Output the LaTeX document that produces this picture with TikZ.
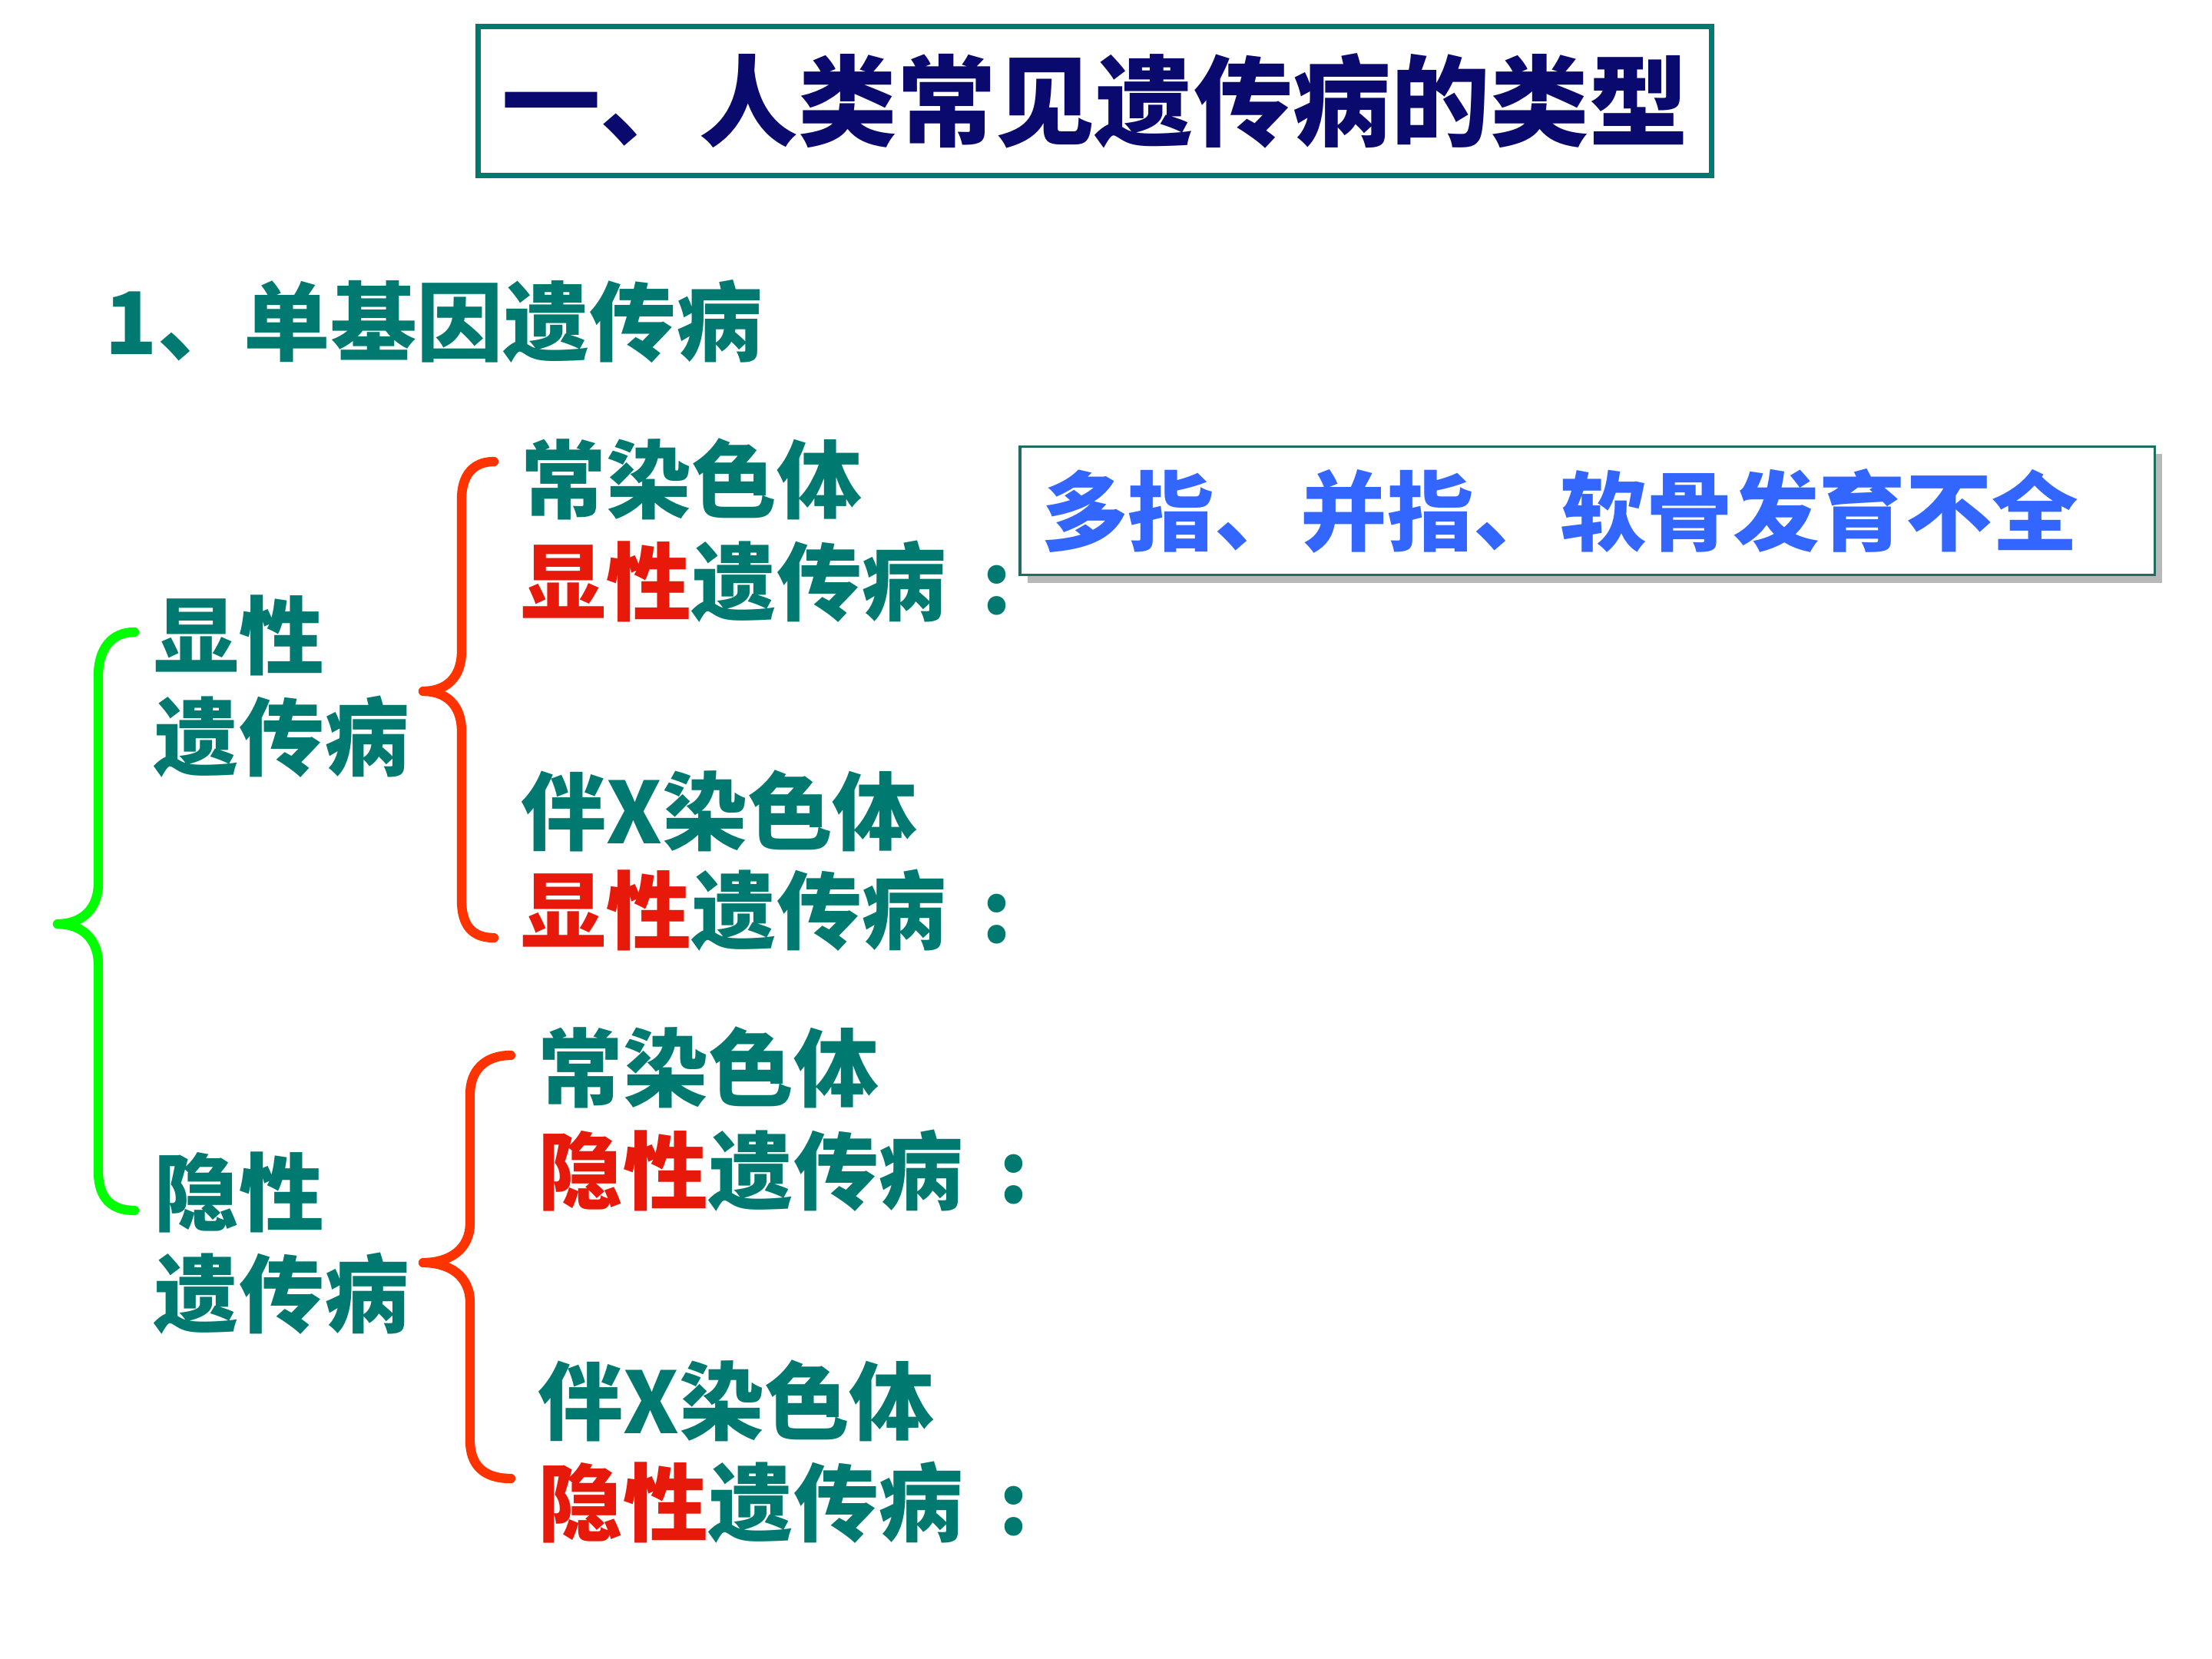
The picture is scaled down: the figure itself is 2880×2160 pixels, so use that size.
\documentclass[tikz,border=0pt]{standalone}
\usepackage{fontspec}
\setmainfont{Noto Sans CJK SC}
\usetikzlibrary{shadows}
\definecolor{navy}{RGB}{10,10,110}
\definecolor{teal1}{RGB}{0,122,112}
\definecolor{redtxt}{RGB}{230,25,10}
\definecolor{orangebr}{RGB}{255,51,0}
\definecolor{greenbr}{RGB}{0,255,0}
\definecolor{bluetxt}{RGB}{51,102,255}
\definecolor{boxline}{RGB}{30,110,95}
\newcommand{\clon}{\hspace{0.42em}:}
\tikzset{
  lbl/.style={anchor=west, inner sep=0pt, text=teal1, font=\fontsize{31.5pt}{31.5pt}\selectfont\bfseries},
  brace/.style={line width=3.5pt, line cap=round, line join=round},
}
\begin{document}
\begin{tikzpicture}[x=0.01cm, y=-0.01cm]
\useasboundingbox (0,0) rectangle (2880,2160);
% title
\node[draw=teal1, line width=2pt, minimum width=16.05cm, minimum height=1.93cm, inner sep=0pt,
      text=navy, font=\fontsize{36.6pt}{36.6pt}\selectfont\bfseries] (title) at (1425.5,131.5) {一、人类常见遗传病的类型};
% subtitle
\node[lbl, font=\fontsize{32pt}{32pt}\selectfont\bfseries] (sub) at (136,419) {1、单基因遗传病};
% left labels
\node[lbl] (dom1) at (200,827) {显性};
\node[lbl] (dom2) at (200,959) {遗传病};
\node[lbl] (rec1) at (200,1552) {隐性};
\node[lbl] (rec2) at (200,1684) {遗传病};
% upper group
\node[lbl] (a1) at (678,624) {常染色体};
\node[lbl] (a2) at (678,757) {\textcolor{redtxt}{显性}遗传病\clon};
\node[lbl] (b1) at (678,1056) {伴X染色体};
\node[lbl] (b2) at (678,1185) {\textcolor{redtxt}{显性}遗传病\clon};
% lower group
\node[lbl] (c1) at (700,1390) {常染色体};
\node[lbl] (c2) at (700,1524) {\textcolor{redtxt}{隐性}遗传病\clon};
\node[lbl] (d1) at (700,1824) {伴X染色体};
\node[lbl] (d2) at (700,1956) {\textcolor{redtxt}{隐性}遗传病\clon};
% example box
\node[draw=boxline, line width=1.1pt, fill=white, minimum width=14.77cm, minimum height=1.67cm,
      text width=14.2cm, align=left, inner xsep=0.26cm, inner ysep=0pt,
      drop shadow={shadow xshift=0.1cm, shadow yshift=-0.1cm, fill=black!28, opacity=1},
      text=bluetxt, font=\fontsize{32pt}{32pt}\selectfont\bfseries] (ex) at (2066.5,665) {多指、并指、软骨发育不全};
% green brace
\draw[brace, greenbr] (175,823) .. controls (145,823) and (128,845) .. (128,880) -- (128,1150)
  .. controls (128,1185) and (105,1203) .. (75,1203)
  .. controls (105,1203) and (128,1221) .. (128,1256) -- (128,1525)
  .. controls (128,1560) and (145,1576) .. (175,1576);
% upper orange brace
\draw[brace, orangebr] (643,601) .. controls (615,601) and (601,620) .. (601,650) -- (601,848)
  .. controls (601,883) and (580,900) .. (551,900)
  .. controls (580,900) and (601,917) .. (601,952) -- (601,1172)
  .. controls (601,1205) and (615,1221) .. (643,1221);
% lower orange brace
\draw[brace, orangebr] (665,1374) .. controls (630,1374) and (612,1395) .. (612,1425) -- (612,1592)
  .. controls (612,1627) and (585,1644) .. (551,1644)
  .. controls (585,1644) and (612,1661) .. (612,1696) -- (612,1875)
  .. controls (612,1908) and (630,1925) .. (665,1925);
\end{tikzpicture}
\end{document}
